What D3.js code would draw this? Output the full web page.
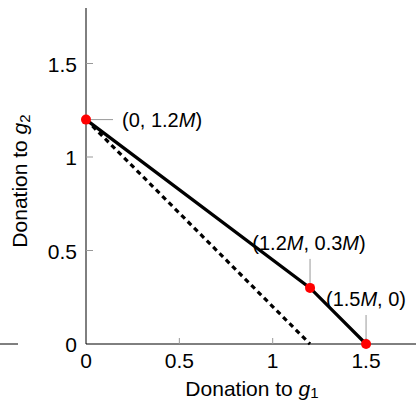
<!DOCTYPE html>
<html>
<meta charset="utf-8">
<script src="https://d3js.org/d3.v7.min.js"></script>
<head>
<style>
body { margin: 0; background: #fff; }
text { font-family: "Liberation Sans", Arial, sans-serif; }
</style>
</head>
<body>
<div id="chart"></div>
<script>

// data
var xTicks = [0, 0.5, 1, 1.5]
var yTicks = [0.5, 1, 1.5]
var solidX = [0, 1.2, 1.5]
var solidY = [1.2, 0.3, 0]
var dashX = [0, 1.2]
var dashY = [1.2, 0]
var pointLabels = [["(0, 1.2", "M", ")"], ["(1.2", "M", ", 0.3", "M", ")"], ["(1.5", "M", ", 0)"]]

var width = 416, height = 403

var svg = d3.select("#chart").append("svg")
  .attr("width", width)
  .attr("height", height)

var x = d3.scaleLinear().domain([0, 1.8]).range([86, 86 + 1.8 * 186.7])
var y = d3.scaleLinear().domain([0, 1.8]).range([344, 344 - 1.8 * 187])

// axis lines
svg.append("line").attr("x1", x(0)).attr("x2", width).attr("y1", y(0)).attr("y2", y(0))
  .attr("stroke", "black").attr("stroke-width", 1)
svg.append("line").attr("x1", 0).attr("x2", 18).attr("y1", y(0)).attr("y2", y(0))
  .attr("stroke", "black").attr("stroke-width", 1)
svg.append("line").attr("x1", x(0)).attr("x2", x(0)).attr("y1", y(0)).attr("y2", 8)
  .attr("stroke", "black").attr("stroke-width", 1)

// ticks
svg.selectAll("xt").data(xTicks.filter(function(d){ return d > 0 })).enter()
  .append("line")
  .attr("x1", function(d){ return x(d) }).attr("x2", function(d){ return x(d) })
  .attr("y1", y(0)).attr("y2", y(0) - 6)
  .attr("stroke", "#999").attr("stroke-width", 1)
svg.selectAll("yt").data(yTicks).enter()
  .append("line")
  .attr("x1", x(0)).attr("x2", x(0) + 7)
  .attr("y1", function(d){ return y(d) }).attr("y2", function(d){ return y(d) })
  .attr("stroke", "#999").attr("stroke-width", 1)

// tick labels
svg.selectAll("xl").data(xTicks).enter()
  .append("text")
  .attr("x", function(d){ return x(d) })
  .attr("y", 368)
  .attr("text-anchor", "middle")
  .style("font-size", "21px")
  .text(function(d){ return d })
svg.selectAll("yl").data([0].concat(yTicks)).enter()
  .append("text")
  .attr("x", 77)
  .attr("y", function(d){ return y(d) + 8 })
  .attr("text-anchor", "end")
  .style("font-size", "21px")
  .text(function(d){ return d })

// axis titles
var xt = svg.append("text").attr("x", 252).attr("y", 396).attr("text-anchor", "middle")
  .style("font-size", "21px")
xt.append("tspan").text("Donation to ")
xt.append("tspan").style("font-style", "italic").text("g")
xt.append("tspan").attr("dy", 2).style("font-size", "15px").text("1")

var yt = svg.append("text").attr("transform", "translate(27,181) rotate(-90)").attr("text-anchor", "middle")
  .style("font-size", "21px")
yt.append("tspan").text("Donation to ")
yt.append("tspan").style("font-style", "italic").text("g")
yt.append("tspan").attr("dy", 3).style("font-size", "15px").text("2")

// annotation pins
var pins = [
  [x(0), y(1.2), x(0) + 27, y(1.2)],
  [x(1.2), y(0.3), x(1.2), y(0.3) - 29],
  [x(1.5), y(0), x(1.5), y(0) - 29]
]
svg.selectAll("pin").data(pins).enter()
  .append("line")
  .attr("x1", function(d){ return d[0] }).attr("y1", function(d){ return d[1] })
  .attr("x2", function(d){ return d[2] }).attr("y2", function(d){ return d[3] })
  .attr("stroke", "#999").attr("stroke-width", 1)

// lines
var line = d3.line().x(function(d){ return x(d[0]) }).y(function(d){ return y(d[1]) })
svg.append("path")
  .datum(dashX.map(function(d, i){ return [d, dashY[i]] }))
  .attr("d", line)
  .attr("fill", "none").attr("stroke", "black").attr("stroke-width", 3.2)
  .attr("stroke-dasharray", "5,4")
svg.append("path")
  .datum(solidX.map(function(d, i){ return [d, solidY[i]] }))
  .attr("d", line)
  .attr("fill", "none").attr("stroke", "black").attr("stroke-width", 3.2)

// points
svg.selectAll("pt").data(solidX).enter()
  .append("circle")
  .attr("cx", function(d){ return x(d) })
  .attr("cy", function(d, i){ return y(solidY[i]) })
  .attr("r", 5)
  .attr("fill", "red")

// point labels
var labelPos = [[122, 127, "start"], [309, 250, "middle"], [366, 306, "middle"]]
pointLabels.forEach(function(parts, i) {
  var t = svg.append("text")
    .attr("x", labelPos[i][0]).attr("y", labelPos[i][1])
    .attr("text-anchor", labelPos[i][2])
    .style("font-size", "20px")
  parts.forEach(function(p) {
    t.append("tspan").style("font-style", p == "M" ? "italic" : "normal").text(p)
  })
})

</script>
</body>
</html>
